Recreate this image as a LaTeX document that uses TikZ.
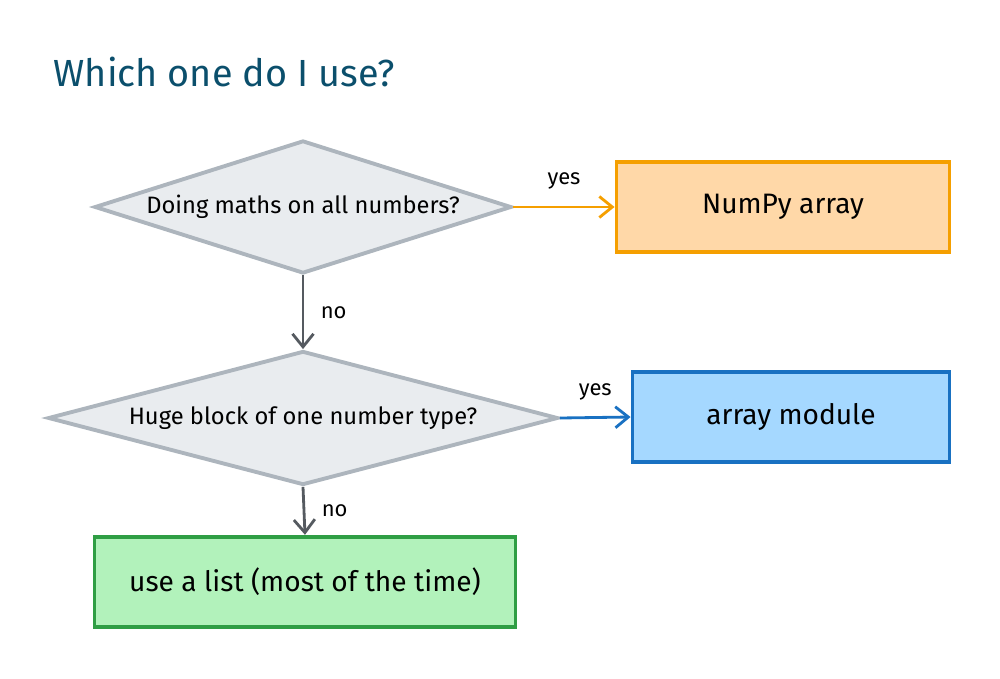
\documentclass[tikz,border=0pt]{standalone}
\usepackage{fontspec}
\setmainfont{Fira Sans}
\usetikzlibrary{shapes.geometric,arrows.meta,positioning}
\definecolor{titleteal}{HTML}{0B4F6C}
\definecolor{diastroke}{HTML}{ADB5BD}
\definecolor{diafill}{HTML}{E9ECEF}
\definecolor{orangestroke}{HTML}{F59F00}
\definecolor{orangefill}{HTML}{FFD8A8}
\definecolor{bluestroke}{HTML}{1971C2}
\definecolor{bluefill}{HTML}{A5D8FF}
\definecolor{greenstroke}{HTML}{2F9E44}
\definecolor{greenfill}{HTML}{B2F2BB}
\definecolor{arrowgray}{HTML}{555A60}
\tikzset{
  decision/.style={diamond, draw=diastroke, fill=diafill, line width=2.2pt, inner sep=0pt, font=\fontsize{13.5}{16}\selectfont},
  outcome/.style={rectangle, line width=2.2pt, minimum height=1.81cm, font=\fontsize{16}{19}\selectfont},
  flow/.style={line width=1.6pt, -{Straight Barb[length=2.6mm,width=4.2mm]}},
  answer/.style={font=\fontsize{12.5}{15}\selectfont, text=black}
}
\begin{document}
\begin{tikzpicture}
\useasboundingbox (0,0) rectangle (20,-13.56);
\node[anchor=west, text=titleteal, font=\fontsize{21.5}{26}\selectfont] (title) at (0.95,-1.44) {Which one do I use?};
\node[decision, aspect=3.135, minimum width=8.34cm, minimum height=2.66cm] (maths) at (6.06,-4.14) {Doing maths on all numbers?};
\node[decision, aspect=3.806, minimum width=10.2cm, minimum height=2.68cm] (block) at (6.06,-8.36) {Huge block of one number type?};
\node[outcome, draw=orangestroke, fill=orangefill, minimum width=6.66cm] (numpy) at (15.66,-4.14) {NumPy array};
\node[outcome, draw=bluestroke, fill=bluefill, minimum width=6.34cm] (arraymod) at (15.82,-8.34) {array module};
\node[outcome, draw=greenstroke, fill=greenfill, minimum width=8.42cm] (list) at (6.1,-11.64) {use a list (most of the time)};
\draw[flow, orangestroke] (maths.east) -- node[answer, above=6pt] {yes} (numpy.west);
\draw[flow, bluestroke] (block.east) -- node[answer, above=6pt] {yes} (arraymod.west);
\draw[flow, arrowgray] (maths.south) -- node[answer, right=6pt] {no} (block.north);
\draw[flow, arrowgray] (block.south) -- node[answer, right=6pt] {no} (list.north);
\end{tikzpicture}
\end{document}
